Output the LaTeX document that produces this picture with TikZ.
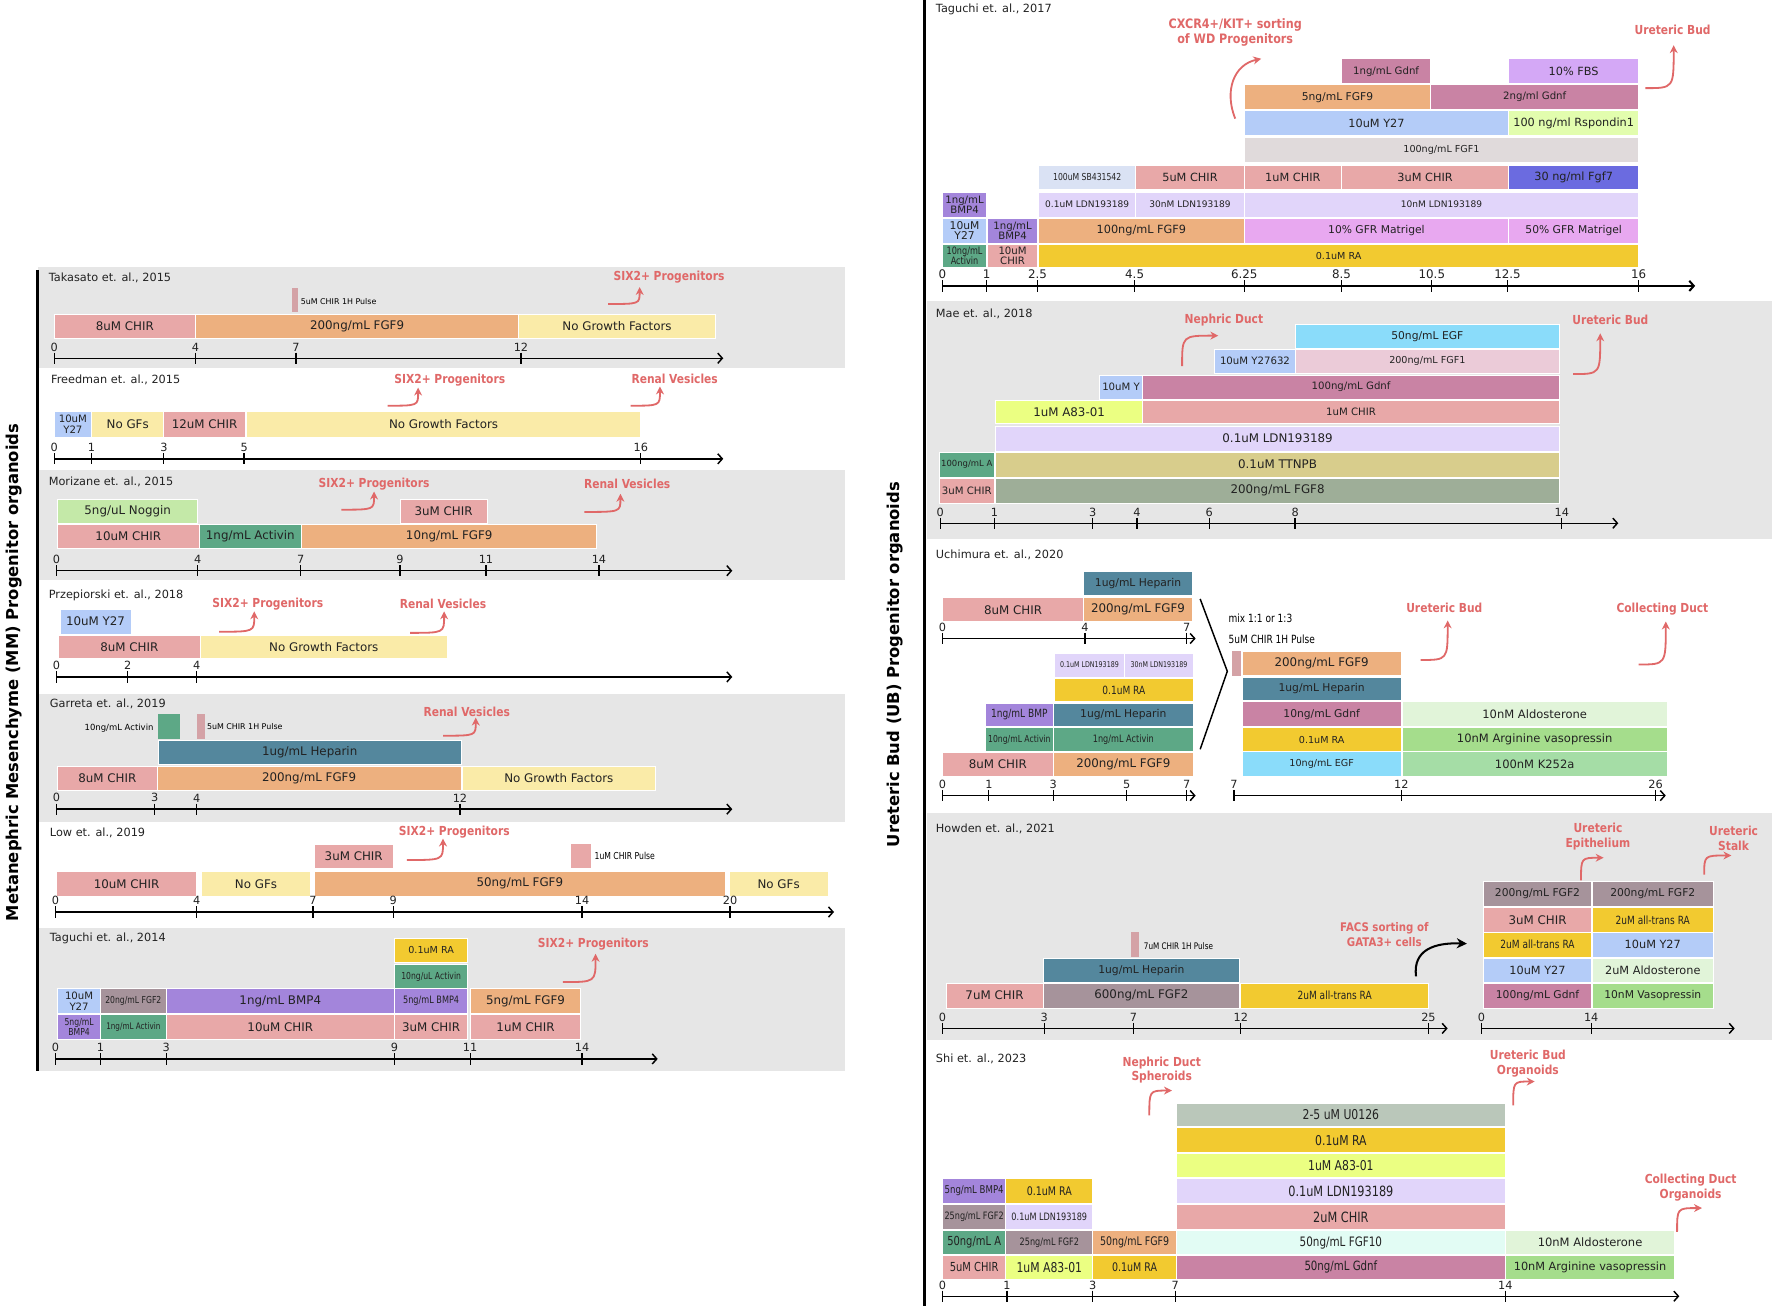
\documentclass[tikz,border=0pt]{standalone}
\usepackage{fontspec}
\setmainfont{DejaVu Sans}
\newfontfamily\condf[FakeStretch=0.8]{DejaVu Sans}
\newfontfamily\redf[FakeStretch=0.86]{DejaVu Sans}
\usetikzlibrary{arrows.meta,calc}
\newcommand\fsz[2]{\fontsize{#1}{#2}\selectfont}
\definecolor{chir}{HTML}{E8A8A8}
\definecolor{fgfnine}{HTML}{EDB07F}
\definecolor{nogf}{HTML}{FAEBA8}
\definecolor{ytwo}{HTML}{B4CCF8}
\definecolor{act}{HTML}{5DA886}
\definecolor{nog}{HTML}{C4E9A8}
\definecolor{hep}{HTML}{54879D}
\definecolor{bmp}{HTML}{A385DB}
\definecolor{fgftwo}{HTML}{A6939B}
\definecolor{ra}{HTML}{F2CA30}
\definecolor{ldn}{HTML}{E1D5FA}
\definecolor{sb}{HTML}{DAE2F4}
\definecolor{fgfone}{HTML}{E0DADB}
\definecolor{gdnf}{HTML}{C983A4}
\definecolor{fbs}{HTML}{D4A8F6}
\definecolor{mat}{HTML}{E8A8F0}
\definecolor{rsp}{HTML}{E2FDAE}
\definecolor{fgfseven}{HTML}{6B6BE0}
\definecolor{aeight}{HTML}{EBFF82}
\definecolor{ttn}{HTML}{D8CD8C}
\definecolor{fgfeight}{HTML}{9EAE98}
\definecolor{fgfonep}{HTML}{EBCBD8}
\definecolor{egf}{HTML}{8ADCFA}
\definecolor{ald}{HTML}{E1F4D9}
\definecolor{avp}{HTML}{A5DD8C}
\definecolor{kta}{HTML}{A5DDA6}
\definecolor{fgften}{HTML}{E2FCF4}
\definecolor{uo}{HTML}{BAC7BA}
\definecolor{redl}{HTML}{E06868}
\definecolor{panel}{HTML}{E6E6E6}
\definecolor{txt}{HTML}{222222}
\definecolor{pulse}{HTML}{D4A2A6}
% box: [opts]{x1}{y1}{x2}{y2}{colour}{text}
\newcommand\bx[7][]{%
  \path[fill=#6,draw=white,line width=0.7pt] (#2,#3) rectangle (#4,#5);
  \node[bxt,#1] at ($(#2,#3)!.5!(#4,#5)$) {#7};}
\newcommand\axl[4][]{\draw[axis,#1] (#2,#4) -- (#3,#4);}
\newcommand\tk[4][]{\draw[tick] (#2,#3-5) -- (#2,#3+5); \node[tkl,#1] at (#2,#3-6) {#4};}
\newcommand\arRU[4]{\draw[rarr] (#1,#2) .. controls (#3,#2) .. (#3,#4);}
\newcommand\arUR[4]{\draw[rarr] (#1,#2) .. controls (#1,#4) .. (#3,#4);}
\newcommand\redlab[3]{\node[rlab] at (#1,#2) {#3};}
\begin{document}
\begin{tikzpicture}[x=1pt,y=-1pt,
  bxt/.style={font=\fsz{10.5}{11}, text=txt, inner sep=0pt, align=center},
  ttl/.style={anchor=west, font=\fsz{10}{12}, text=txt, inner sep=0pt},
  tkl/.style={anchor=south, font=\fsz{10}{12}, text=txt, inner sep=0pt},
  axis/.style={line width=1.3pt, -{Straight Barb[length=4pt,width=9pt]}},
  tick/.style={line width=1.1pt},
  rarr/.style={draw=redl, line width=1.6pt, -{Stealth[length=7pt,width=7pt]}},
  rlab/.style={font=\redf\bfseries\fsz{11}{13}, text=redl, align=center, inner sep=0pt},
  side/.style={rotate=90, font=\bfseries\fsz{14.5}{16}, text=black}]
\useasboundingbox (0,0) rectangle (1568,1156);
\fill[white] (0,0) rectangle (1568,1156);

% ================= LEFT =================
\fill[panel] (34,236) rectangle (748,326);
\fill[panel] (34,416) rectangle (748,513);
\fill[panel] (34,614) rectangle (748,727);
\fill[panel] (34,821) rectangle (748,948);
\draw[line width=2.2pt] (33,239) -- (33,948);
\node[side] (mmlab) at (12,595) {Metanephric Mesenchyme (MM) Progenitor organoids};

% Takasato
\node[ttl] at (43,246) {Takasato et. al., 2015};
\fill[pulse] (258,255) rectangle (264,276);
\node[anchor=west,font=\fsz{7}{8},inner sep=0pt] at (266,267) {5uM CHIR 1H Pulse};
\bx{48}{278}{173}{299}{chir}{8uM CHIR}
\bx{173}{278}{459}{299}{fgfnine}{200ng/mL FGF9}
\bx{459}{278}{633}{299}{nogf}{No Growth Factors}
\axl{48}{640}{317}
\tk{48}{317}{0}\tk{173}{317}{4}\tk{262}{317}{7}\tk{461}{317}{12}
\redlab{592}{245}{SIX2+ Progenitors}
\arRU{538}{269}{566}{254}

% Freedman
\node[ttl] at (45,336) {Freedman et. al., 2015};
\bx[font=\fsz{9}{9.5}]{48}{364}{81}{387}{ytwo}{10uM\\Y27}
\bx{81}{364}{145}{387}{nogf}{No GFs}
\bx{145}{364}{217}{387}{chir}{12uM CHIR}
\bx{218}{364}{567}{387}{nogf}{No Growth Factors}
\axl{48}{640}{406}
\tk{48}{406}{0}\tk{81}{406}{1}\tk{145}{406}{3}\tk{216}{406}{5}\tk{567}{406}{16}
\redlab{398}{336}{SIX2+ Progenitors}
\arRU{343}{359}{370}{343}
\redlab{597}{335}{Renal Vesicles}
\arRU{558}{359}{584}{342}

% Morizane
\node[ttl] at (43,426) {Morizane et. al., 2015};
\bx{51}{442}{175}{463}{nog}{5ng/uL Noggin}
\bx{354}{442}{431}{463}{chir}{3uM CHIR}
\bx{51}{464}{176}{485}{chir}{10uM CHIR}
\bx{176}{464}{267}{485}{act}{1ng/mL Activin}
\bx{267}{464}{528}{485}{fgfnine}{10ng/mL FGF9}
\axl{50}{648}{505}
\tk{50}{505}{0}\tk{175}{505}{4}\tk{266}{505}{7}\tk{354}{505}{9}\tk{430}{505}{11}\tk{530}{505}{14}
\redlab{331}{428}{SIX2+ Progenitors}
\arRU{302}{451}{331}{435}
\redlab{555}{428}{Renal Vesicles}
\arRU{517}{453}{549}{437}

% Przepiorski
\node[ttl] at (43,527) {Przepiorski et. al., 2018};
\bx{53}{539}{116}{561}{ytwo}{10uM Y27}
\bx{52}{562}{177}{583}{chir}{8uM CHIR}
\bx{177}{562}{396}{583}{nogf}{No Growth Factors}
\axl{50}{648}{599}
\tk{50}{599}{0}\tk{113}{599}{2}\tk{174}{599}{4}
\redlab{237}{535}{SIX2+ Progenitors}
\arRU{194}{559}{225}{541}
\redlab{392}{534}{Renal Vesicles}
\arRU{363}{560}{393}{541}

% Garreta
\node[ttl] at (44,623) {Garreta et. al., 2019};
\fill[act] (140,632) rectangle (159,654);
\node[anchor=east,font=\fsz{7.5}{8},inner sep=0pt] at (136,644) {10ng/mL Activin};
\fill[pulse] (174,632) rectangle (181,654);
\node[anchor=west,font=\fsz{7}{8},inner sep=0pt] at (183,643) {5uM CHIR 1H Pulse};
\bx{140}{655}{408}{676}{hep}{1ug/mL Heparin}
\bx{51}{678}{139}{699}{chir}{8uM CHIR}
\bx{139}{678}{408}{699}{fgfnine}{200ng/mL FGF9}
\bx{409}{678}{580}{699}{nogf}{No Growth Factors}
\axl{50}{648}{716}
\tk{50}{716}{0}\tk{137}{716}{3}\tk{174}{716}{4}\tk{407}{716}{12}
\redlab{413}{630}{Renal Vesicles}
\arRU{392}{651}{421}{635}

% Low
\node[ttl] at (44,737) {Low et. al., 2019};
\bx{278}{747}{348}{768}{chir}{3uM CHIR}
\fill[chir] (505,747) rectangle (523,768);
\node[anchor=west,font=\condf\fsz{8.5}{9},inner sep=0pt] at (526,757) {1uM CHIR Pulse};
\bx{50}{771}{174}{793}{chir}{10uM CHIR}
\bx{178}{771}{275}{793}{nogf}{No GFs}
\bx{278}{771}{642}{793}{fgfnine}{50ng/mL FGF9}
\bx{645}{771}{733}{793}{nogf}{No GFs}
\axl{49}{738}{807}
\tk{49}{807}{0}\tk{174}{807}{4}\tk{277}{807}{7}\tk{348}{807}{9}\tk{515}{807}{14}\tk{646}{807}{20}
\redlab{402}{736}{SIX2+ Progenitors}
\arRU{360}{761}{392}{742}

% Taguchi 2014
\node[ttl] at (44,830) {Taguchi et. al., 2014};
\bx[font=\fsz{8.5}{9}]{349}{830}{414}{852}{ra}{0.1uM RA}
\bx[font=\condf\fsz{8.5}{9}]{349}{853}{414}{875}{act}{10ng/uL Activin}
\bx[font=\fsz{9}{9.5}]{51}{875}{89}{897}{ytwo}{10uM\\Y27}
\bx[font=\condf\fsz{8.5}{9}]{89}{875}{147}{897}{fgftwo}{20ng/mL FGF2}
\bx{147}{875}{349}{897}{bmp}{1ng/mL BMP4}
\bx[font=\condf\fsz{9}{9}]{349}{875}{414}{897}{bmp}{5ng/mL BMP4}
\bx{416}{875}{514}{897}{fgfnine}{5ng/mL FGF9}
\bx[font=\condf\fsz{8.5}{8.5}]{51}{898}{89}{920}{bmp}{5ng/mL\\BMP4}
\bx[font=\condf\fsz{8}{9}]{89}{898}{147}{920}{act}{1ng/mL Activin}
\bx{147}{898}{349}{920}{chir}{10uM CHIR}
\bx{349}{898}{414}{920}{chir}{3uM CHIR}
\bx{416}{898}{514}{920}{chir}{1uM CHIR}
\axl{49}{582}{937}
\tk{49}{937}{0}\tk{89}{937}{1}\tk{147}{937}{3}\tk{349}{937}{9}\tk{416}{937}{11}\tk{515}{937}{14}
\redlab{525}{835}{SIX2+ Progenitors}
\arRU{498}{869}{527}{844}

% ================= RIGHT =================
\fill[panel] (820,266) rectangle (1568,477);
\fill[panel] (820,719) rectangle (1568,920);
\draw[line width=2.5pt] (818,0) -- (818,1156);
\node[side] (ublab) at (792,588) {Ureteric Bud (UB) Progenitor organoids};

% Taguchi 2017
\node[ttl] at (828,8) {Taguchi et. al., 2017};
\bx[font=\fsz{9}{10}]{1187}{52}{1266}{74}{gdnf}{1ng/mL Gdnf}
\bx[font=\fsz{10}{11}]{1335}{52}{1450}{74}{fbs}{10\% FBS}
\bx[font=\fsz{9.5}{10}]{1101}{75}{1266}{97}{fgfnine}{5ng/mL FGF9}
\bx[font=\fsz{9}{10}]{1266}{75}{1450}{97}{gdnf}{2ng/ml Gdnf}
\bx[font=\fsz{10}{11}]{1101}{98}{1335}{120}{ytwo}{10uM Y27}
\bx[font=\fsz{10}{11}]{1335}{98}{1450}{120}{rsp}{100 ng/ml Rspondin1}
\bx[font=\fsz{8.5}{9}]{1101}{122}{1450}{144}{fgfone}{100ng/mL FGF1}
\bx[font=\condf\fsz{8.5}{9}]{919}{146}{1005}{168}{sb}{100uM SB431542}
\bx[font=\fsz{10}{11}]{1005}{146}{1101}{168}{chir}{5uM CHIR}
\bx[font=\fsz{10}{11}]{1101}{146}{1187}{168}{chir}{1uM CHIR}
\bx[font=\fsz{10}{11}]{1187}{146}{1335}{168}{chir}{3uM CHIR}
\bx[font=\fsz{10}{11}]{1335}{146}{1450}{168}{fgfseven}{30 ng/ml Fgf7}
\bx[font=\fsz{9}{9}]{834}{170}{873}{192}{bmp}{1ng/mL\\BMP4}
\bx[font=\fsz{8}{9}]{919}{170}{1005}{192}{ldn}{0.1uM LDN193189}
\bx[font=\fsz{8}{9}]{1005}{170}{1101}{192}{ldn}{30nM LDN193189}
\bx[font=\fsz{8}{9}]{1101}{170}{1450}{192}{ldn}{10nM LDN193189}
\bx[font=\fsz{9.5}{9.5}]{834}{193}{873}{215}{ytwo}{10uM\\Y27}
\bx[font=\fsz{9}{9}]{874}{193}{918}{215}{bmp}{1ng/mL\\BMP4}
\bx[font=\fsz{10}{11}]{919}{193}{1101}{215}{fgfnine}{100ng/mL FGF9}
\bx[font=\fsz{9.5}{11}]{1101}{193}{1335}{215}{mat}{10\% GFR Matrigel}
\bx[font=\fsz{9.5}{11}]{1335}{193}{1450}{215}{mat}{50\% GFR Matrigel}
\bx[font=\condf\fsz{9}{9}]{834}{216}{873}{237}{act}{10ng/mL\\Activin}
\bx[font=\fsz{9}{9}]{874}{216}{918}{237}{chir}{10uM\\CHIR}
\bx[font=\fsz{8.5}{9}]{919}{216}{1450}{237}{ra}{0.1uM RA}
\axl[line width=1.8pt]{834}{1500}{253}
\tk[font=\fsz{10.5}{12}]{834}{253}{0}\tk[font=\fsz{10.5}{12}]{873}{253}{1}\tk[font=\fsz{10.5}{12}]{918}{253}{2.5}
\tk[font=\fsz{10.5}{12}]{1004}{253}{4.5}\tk[font=\fsz{10.5}{12}]{1101}{253}{6.25}\tk[font=\fsz{10.5}{12}]{1187}{253}{8.5}
\tk[font=\fsz{10.5}{12}]{1267}{253}{10.5}\tk[font=\fsz{10.5}{12}]{1334}{253}{12.5}\tk[font=\fsz{10.5}{12}]{1450}{253}{16}
\node[rlab,font=\redf\bfseries\fsz{11.5}{13}] at (1093,29) {CXCR4+/KIT+ sorting\\of WD Progenitors};
\draw[rarr] (1093,105) .. controls (1083,80) and (1092,57) .. (1116,52);
\redlab{1480}{26}{Ureteric Bud}
\arRU{1456}{78}{1481}{40}

% Mae
\node[ttl] at (828,278) {Mae et. al., 2018};
\bx[font=\fsz{9.5}{10}]{1146}{287}{1380}{308}{egf}{50ng/mL EGF}
\bx[font=\fsz{9}{10}]{1075}{309}{1146}{330}{ytwo}{10uM Y27632}
\bx[font=\fsz{8.5}{9}]{1146}{309}{1380}{330}{fgfonep}{200ng/mL FGF1}
\bx[font=\fsz{9}{10}]{973}{332}{1011}{353}{ytwo}{10uM Y}
\bx[font=\fsz{9}{10}]{1011}{332}{1380}{353}{gdnf}{100ng/mL Gdnf}
\bx[font=\fsz{10.5}{11}]{881}{354}{1011}{375}{aeight}{1uM A83-01}
\bx[font=\fsz{9}{10}]{1011}{354}{1380}{375}{chir}{1uM CHIR}
\bx{881}{377}{1380}{399}{ldn}{0.1uM LDN193189}
\bx[font=\fsz{7.5}{8}]{831}{400}{880}{422}{act}{100ng/mL A}
\bx{881}{400}{1380}{422}{ttn}{0.1uM TTNPB}
\bx[font=\fsz{9}{10}]{831}{423}{880}{445}{chir}{3uM CHIR}
\bx{881}{423}{1380}{445}{fgfeight}{200ng/mL FGF8}
\axl{832}{1432}{463}
\tk{832}{463}{0}\tk{880}{463}{1}\tk{967}{463}{3}\tk{1006}{463}{4}\tk{1070}{463}{6}\tk{1146}{463}{8}\tk{1382}{463}{14}
\redlab{1083}{283}{Nephric Duct}
\arUR{1046}{324}{1078}{297}
\redlab{1425}{283}{Ureteric Bud}
\arRU{1392}{331}{1416}{295}

% Uchimura
\node[ttl] at (828,491) {Uchimura et. al., 2020};
\bx[font=\fsz{9.5}{10}]{959}{506}{1055}{527}{hep}{1ug/mL Heparin}
\bx{834}{529}{959}{550}{chir}{8uM CHIR}
\bx{959}{529}{1055}{550}{fgfnine}{200ng/mL FGF9}
\axl{834}{1058}{565}
\tk{834}{565}{0}\tk{960}{565}{4}\tk{1050}{565}{7}
\bx[font=\condf\fsz{7}{8}]{933}{578}{995}{599}{ldn}{0.1uM LDN193189}
\bx[font=\condf\fsz{7}{8}]{995}{578}{1056}{599}{ldn}{30nM LDN193189}
\bx[font=\condf\fsz{10}{10}]{933}{600}{1056}{621}{ra}{0.1uM RA}
\bx[font=\condf\fsz{10}{10}]{872}{622}{932}{643}{bmp}{1ng/mL BMP}
\bx[font=\fsz{9.5}{10}]{932}{622}{1056}{643}{hep}{1ug/mL Heparin}
\bx[font=\condf\fsz{8.5}{9}]{872}{644}{932}{665}{act}{10ng/mL Activin}
\bx[font=\condf\fsz{9}{9}]{932}{644}{1056}{665}{act}{1ng/mL Activin}
\bx{834}{666}{932}{687}{chir}{8uM CHIR}
\bx{932}{666}{1056}{687}{fgfnine}{200ng/mL FGF9}
\axl{834}{1058}{704}
\tk{834}{704}{0}\tk{875}{704}{1}\tk{932}{704}{3}\tk{997}{704}{5}\tk{1050}{704}{7}
\draw[line width=1.3pt] (1062,530) -- (1086,594) -- (1062,663);
\node[anchor=west,font=\condf\fsz{10}{11},inner sep=0pt] at (1087,547) {mix 1:1 or 1:3};
\node[anchor=west,font=\condf\fsz{10}{11},inner sep=0pt] at (1087,566) {5uM CHIR 1H Pulse};
\fill[pulse] (1090,576) rectangle (1098,598);
\bx{1099}{576}{1240}{598}{fgfnine}{200ng/mL FGF9}
\bx[font=\fsz{9.5}{10}]{1099}{599}{1240}{620}{hep}{1ug/mL Heparin}
\bx[font=\fsz{9.5}{10}]{1099}{621}{1240}{643}{gdnf}{10ng/mL Gdnf}
\bx[font=\fsz{8.5}{9}]{1099}{644}{1240}{665}{ra}{0.1uM RA}
\bx[font=\fsz{8.5}{9}]{1099}{665}{1240}{687}{egf}{10ng/mL EGF}
\bx[font=\fsz{10.2}{11}]{1241}{621}{1475}{643}{ald}{10nM Aldosterone}
\bx[font=\fsz{10.2}{11}]{1241}{644}{1475}{665}{avp}{10nM Arginine vasopressin}
\bx[font=\fsz{10.2}{11}]{1241}{665}{1475}{687}{kta}{100nM K252a}
\axl{1092}{1474}{704}
\tk{1092}{704}{7}\tk{1240}{704}{12}\tk{1465}{704}{26}
\redlab{1278}{538}{Ureteric Bud}
\arRU{1257}{584}{1281}{549}
\redlab{1471}{539}{Collecting Duct}
\arRU{1450}{588}{1474}{550}

% Howden
\node[ttl] at (828,733) {Howden et. al., 2021};
\fill[pulse] (1001,825) rectangle (1008,847);
\node[anchor=west,font=\condf\fsz{8}{9},inner sep=0pt] at (1012,837) {7uM CHIR 1H Pulse};
\bx[font=\fsz{9.5}{10}]{923}{848}{1097}{869}{hep}{1ug/mL Heparin}
\bx{837}{870}{923}{892}{chir}{7uM CHIR}
\bx{923}{870}{1097}{892}{fgftwo}{600ng/mL FGF2}
\bx[font=\condf\fsz{10}{10}]{1098}{870}{1264}{892}{ra}{2uM all-trans RA}
\axl{834}{1281}{910}
\tk{834}{910}{0}\tk{924}{910}{3}\tk{1003}{910}{7}\tk{1098}{910}{12}\tk{1264}{910}{25}
\bx[font=\fsz{9.5}{10}]{1313}{780}{1408}{802}{fgftwo}{200ng/mL FGF2}
\bx[font=\fsz{9.5}{10}]{1409}{780}{1516}{802}{fgftwo}{200ng/mL FGF2}
\bx{1313}{803}{1408}{825}{chir}{3uM CHIR}
\bx[font=\condf\fsz{10}{10}]{1409}{803}{1516}{825}{ra}{2uM all-trans RA}
\bx[font=\condf\fsz{10}{10}]{1313}{825}{1408}{847}{ra}{2uM all-trans RA}
\bx[font=\fsz{10}{11}]{1409}{825}{1516}{847}{ytwo}{10uM Y27}
\bx[font=\fsz{10}{11}]{1313}{848}{1408}{869}{ytwo}{10uM Y27}
\bx[font=\fsz{10}{11}]{1409}{848}{1516}{869}{ald}{2uM Aldosterone}
\bx[font=\fsz{9.5}{10}]{1313}{870}{1408}{892}{gdnf}{100ng/mL Gdnf}
\bx[font=\fsz{9.5}{10}]{1409}{870}{1516}{892}{avp}{10nM Vasopressin}
\axl{1311}{1535}{910}
\tk{1311}{910}{0}\tk{1408}{910}{14}
\node[rlab,font=\redf\bfseries\fsz{10.5}{13}] at (1225,827) {FACS sorting of\\GATA3+ cells};
\draw[line width=1.8pt,-{Stealth[length=9pt,width=9pt]}] (1253,864) .. controls (1250,840) and (1270,834) .. (1298,835);
\redlab{1414}{740}{Ureteric\\Epithelium}
\arUR{1399}{779}{1419}{759}
\redlab{1534}{742}{Ureteric\\Stalk}
\arUR{1508}{774}{1532}{757}

% Shi
\node[ttl] at (828,937) {Shi et. al., 2023};
\bx[font=\condf\fsz{12}{12}]{1041}{976}{1332}{997}{uo}{2-5 uM U0126}
\bx[font=\condf\fsz{12}{12}]{1041}{998}{1332}{1020}{ra}{0.1uM RA}
\bx[font=\condf\fsz{12}{12}]{1041}{1021}{1332}{1042}{aeight}{1uM A83-01}
\bx[font=\condf\fsz{12.5}{13}]{1041}{1043}{1332}{1065}{ldn}{0.1uM LDN193189}
\bx[font=\condf\fsz{12.5}{13}]{1041}{1066}{1332}{1088}{chir}{2uM CHIR}
\bx[font=\condf\fsz{11.5}{12}]{1041}{1089}{1332}{1110}{fgften}{50ng/mL FGF10}
\bx[font=\condf\fsz{11.3}{12}]{1041}{1111}{1332}{1132}{gdnf}{50ng/mL Gdnf}
\bx[font=\fsz{10.2}{11}]{1332}{1089}{1482}{1110}{ald}{10nM Aldosterone}
\bx[font=\fsz{10}{11}]{1332}{1111}{1482}{1132}{avp}{10nM Arginine vasopressin}
\bx[font=\condf\fsz{9.5}{10}]{834}{1043}{890}{1065}{bmp}{5ng/mL BMP4}
\bx[font=\condf\fsz{10.5}{11}]{890}{1043}{967}{1065}{ra}{0.1uM RA}
\bx[font=\condf\fsz{9}{10}]{834}{1066}{890}{1088}{fgftwo}{25ng/mL FGF2}
\bx[font=\condf\fsz{9}{10}]{890}{1066}{967}{1088}{ldn}{0.1uM LDN193189}
\bx[font=\condf\fsz{11}{11}]{834}{1089}{890}{1110}{act}{50ng/mL A}
\bx[font=\condf\fsz{9}{10}]{890}{1089}{967}{1110}{fgftwo}{25ng/mL FGF2}
\bx[font=\condf\fsz{10.5}{11}]{967}{1089}{1041}{1110}{fgfnine}{50ng/mL FGF9}
\bx[font=\condf\fsz{11}{11}]{834}{1111}{890}{1132}{chir}{5uM CHIR}
\bx[font=\condf\fsz{12}{12}]{890}{1111}{967}{1132}{aeight}{1uM A83-01}
\bx[font=\condf\fsz{10.5}{11}]{967}{1111}{1041}{1132}{ra}{0.1uM RA}
\axl{834}{1486}{1147}
\tk{834}{1147}{0}\tk{891}{1147}{1}\tk{967}{1147}{3}\tk{1040}{1147}{7}\tk{1332}{1147}{14}
\redlab{1028}{947}{Nephric Duct\\Spheroids}
\arUR{1017}{987}{1037}{965}
\redlab{1352}{941}{Ureteric Bud\\Organoids}
\arUR{1339}{978}{1358}{957}
\redlab{1496}{1051}{Collecting Duct\\Organoids}
\arUR{1484}{1090}{1506}{1069}
\end{tikzpicture}
\end{document}
